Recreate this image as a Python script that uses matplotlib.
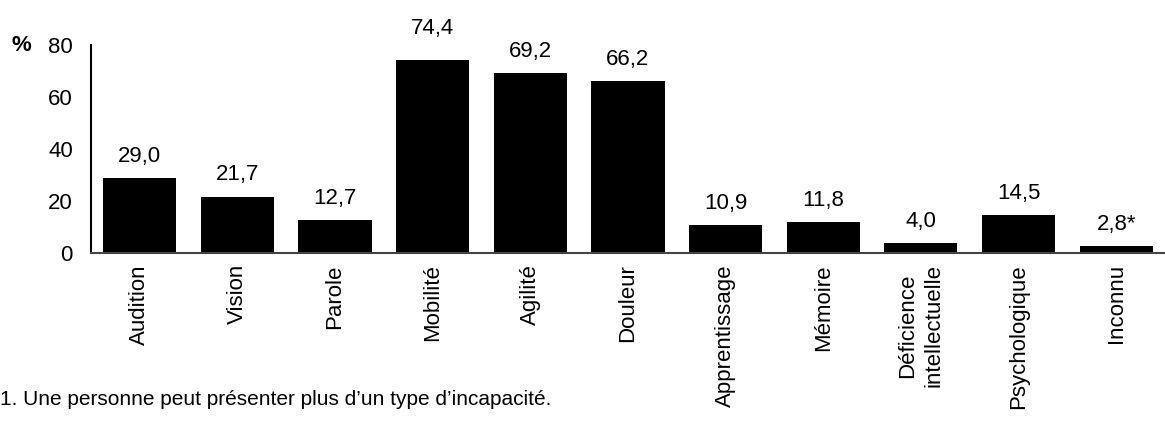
import matplotlib
matplotlib.use("Agg")
import matplotlib.pyplot as plt
import numpy as np

plt.rcParams['font.family'] = ['Liberation Sans', 'DejaVu Sans']

# data
categories = ["Audition", "Vision", "Parole", "Mobilité", "Agilité", "Douleur",
              "Apprentissage", "Mémoire", "Déficience\nintellectuelle",
              "Psychologique", "Inconnu"]
values = [29.0, 21.7, 12.7, 74.4, 69.2, 66.2, 10.9, 11.8, 4.0, 14.5, 2.8]
value_labels = ["29,0", "21,7", "12,7", "74,4", "69,2", "66,2",
                "10,9", "11,8", "4,0", "14,5", "2,8*"]
footnote = "1. Une personne peut présenter plus d\u2019un type d\u2019incapacité."

fig = plt.figure(figsize=(11.65, 4.21), dpi=100)
ax = fig.add_axes([0.078, 0.399, 0.922, 0.494])

x = np.arange(len(categories))
bars = ax.bar(x, values, width=0.75, color='black')

top = max(values)
for b, lab in zip(bars, value_labels):
    # label of the tallest bar sits a little higher, as in the original
    off = 15 if b.get_height() == top else 8
    ax.annotate(lab, (b.get_x() + b.get_width() / 2, b.get_height()),
                xytext=(0, off), textcoords='offset points',
                ha='center', va='bottom', fontsize=16, annotation_clip=False)

ax.set_xlim(-0.5, len(categories) - 0.5)
ax.set_ylim(0, 80)
ax.set_yticks([0, 20, 40, 60, 80])
ax.set_xticks(x)
ax.set_xticklabels(categories, rotation=90, fontsize=16, ha='center', va='top',
                   multialignment='center', linespacing=1.3)
ax.tick_params(axis='x', length=0, pad=8)
ax.tick_params(axis='y', length=0, pad=13, labelsize=16)

for s in ['top', 'right']:
    ax.spines[s].set_visible(False)
ax.spines['left'].set_linewidth(1.5)
ax.spines['bottom'].set_linewidth(1.5)
ax.spines['bottom'].set_color('#444444')

ax.text(-0.074, 1.0, "%", transform=ax.transAxes, fontsize=16, fontweight='bold',
        ha='left', va='center')

fig.text(0.0, 0.05, footnote, fontsize=15, ha='left', va='center')

fig.savefig("out.png", dpi=100)
